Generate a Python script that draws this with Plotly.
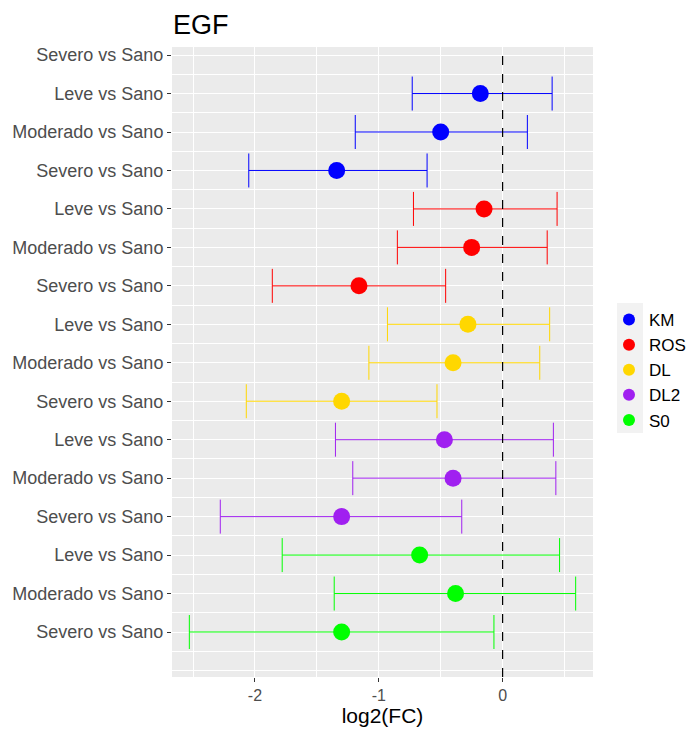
import plotly.graph_objects as go

row_labels = ["Severo vs Sano", "Moderado vs Sano", "Leve vs Sano",
              "Severo vs Sano", "Moderado vs Sano", "Leve vs Sano",
              "Severo vs Sano", "Moderado vs Sano", "Leve vs Sano",
              "Severo vs Sano", "Moderado vs Sano", "Leve vs Sano",
              "Severo vs Sano", "Moderado vs Sano", "Leve vs Sano",
              "Severo vs Sano"]
groups = ["KM", "ROS", "DL", "DL2", "S0"]
colors = {"KM": "#0000FF", "ROS": "#FF0000", "DL": "#FFD700", "DL2": "#A020F0", "S0": "#00FF00"}
# rows (bottom->top) for each group: Severo, Moderado, Leve
rows = {"S0": [1, 2, 3], "DL2": [4, 5, 6], "DL": [7, 8, 9], "ROS": [10, 11, 12], "KM": [13, 14, 15]}
est = {"KM": [-1.34, -0.50, -0.18], "ROS": [-1.16, -0.25, -0.15], "DL": [-1.30, -0.40, -0.28],
       "DL2": [-1.30, -0.40, -0.47], "S0": [-1.30, -0.38, -0.67]}
lower = {"KM": [-2.05, -1.19, -0.73], "ROS": [-1.86, -0.85, -0.72], "DL": [-2.07, -1.08, -0.93],
         "DL2": [-2.28, -1.21, -1.35], "S0": [-2.53, -1.36, -1.78]}
upper = {"KM": [-0.61, 0.20, 0.40], "ROS": [-0.46, 0.36, 0.44], "DL": [-0.53, 0.30, 0.38],
         "DL2": [-0.33, 0.43, 0.41], "S0": [-0.07, 0.59, 0.46]}

fig = go.Figure()
for g in groups:
    e = est[g]
    plus = [u - v for u, v in zip(upper[g], e)]
    minus = [v - l for v, l in zip(e, lower[g])]
    fig.add_trace(go.Scatter(
        x=e, y=rows[g], mode="markers", name=g,
        marker=dict(color=colors[g], size=17),
        error_x=dict(type="data", symmetric=False, array=plus, arrayminus=minus,
                     color=colors[g], thickness=1, width=17),
    ))

# extra white major gridline for the empty row 0
fig.add_shape(type="line", x0=0, x1=1, xref="paper", y0=0, y1=0, yref="y",
              line=dict(color="white", width=1.1), layer="below")
fig.add_shape(type="line", x0=0, x1=0, y0=0, y1=1, yref="paper", xref="x",
              line=dict(color="black", width=1.2, dash="dash"))
# grey background of legend keys
fig.add_shape(type="rect", xref="paper", yref="paper",
              x0=(617 - 172) / 421, x1=(643 - 172) / 421,
              y0=(677 - 433) / 630, y1=(677 - 303) / 630,
              fillcolor="#F2F2F2", line=dict(width=0), layer="below")

fig.update_layout(
    width=693, height=729,
    margin=dict(l=172, r=100, t=47, b=52, autoexpand=False),
    paper_bgcolor="white", plot_bgcolor="#EBEBEB",
    title=dict(text="EGF", x=173/693, xanchor="left", y=1 - 25/729, yanchor="middle",
               font=dict(family="Liberation Sans, Arial", size=27, color="black")),
    font=dict(family="Liberation Sans, Arial"),
    xaxis=dict(range=[-2.67, 0.73], tickvals=[-2, -1, 0], ticktext=["-2", "-1", "0"],
               showgrid=True, gridcolor="white", gridwidth=1.1, zeroline=False,
               ticks="outside", ticklen=4, tickcolor="#333333",
               tickfont=dict(size=16, color="#4D4D4D"),
               minor=dict(tickvals=[-2.5, -1.5, -0.5, 0.5], showgrid=True, gridcolor="white", gridwidth=0.5, ticks=""),
               title=dict(text="log2(FC)", font=dict(size=21, color="black"), standoff=5)),
    yaxis=dict(range=[-0.17, 16.21], tickvals=list(range(1, 17)), ticktext=row_labels,
               showgrid=True, gridcolor="white", gridwidth=1.1, zeroline=False,
               ticks="outside", ticklen=4, tickcolor="#333333",
               tickfont=dict(size=18, color="#4D4D4D"),
               minor=dict(tickvals=[i + 0.5 for i in range(0, 17)], showgrid=True, gridcolor="white", gridwidth=0.5, ticks="")),
    legend=dict(xref="container", yref="container", x=609/693, xanchor="left",
                y=1 - 370/729, yanchor="middle", bgcolor="rgba(0,0,0,0)",
                font=dict(size=17, color="black"), itemsizing="constant", tracegroupgap=0),
    showlegend=True,
)

fig.write_html("out.html")
